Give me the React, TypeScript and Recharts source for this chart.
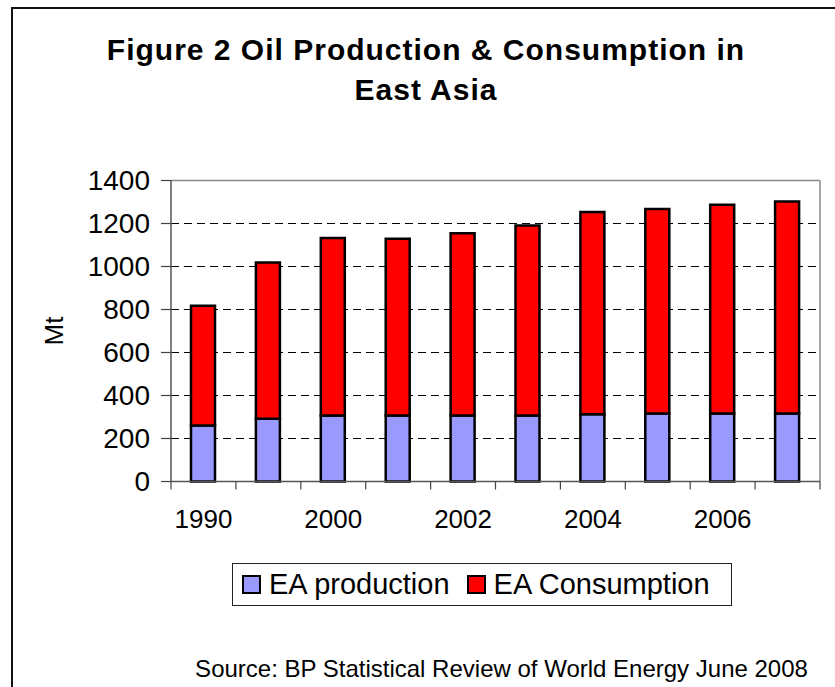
import { BarChart, Bar, XAxis, YAxis, CartesianGrid, Legend } from 'recharts'

const years = ['1990', '1995', '2000', '2001', '2002', '2003', '2004', '2005', '2006', '2007']
const production = [260, 292, 307, 307, 307, 307, 313, 316, 316, 316]
const consumption = [557, 727, 825, 822, 848, 884, 940, 952, 971, 986]
const yTicks = [0, 200, 400, 600, 800, 1000, 1200, 1400]
const seriesNames = ['EA production', 'EA Consumption']

const data = years.map((year, i) => ({
  year,
  production: production[i],
  consumption: consumption[i],
}))

const FONT = "'Liberation Sans', Arial, Helvetica, sans-serif"
const WIDTH = 835
const HEIGHT = 687
const MARGIN = { top: 180.5, right: 15, bottom: 145.5, left: 91 }
const Y_AXIS_WIDTH = 80
const X_AXIS_HEIGHT = 60
const X_TICK_SIZE = 8
const X_TICK_MARGIN = 20
const BAND = (WIDTH - MARGIN.left - MARGIN.right - Y_AXIS_WIDTH) / years.length

// Excel-style category ticks: tick marks sit between bars, labels on every other year
const YearTick = (props: any) => {
  const { x, y, index, payload } = props
  const axisY = y - X_TICK_SIZE - X_TICK_MARGIN
  const half = BAND / 2
  return (
    <g>
      <line x1={x - half} x2={x - half} y1={axisY} y2={axisY + X_TICK_SIZE} stroke="#444" strokeWidth={1.2} />
      {index === years.length - 1 && (
        <line x1={x + half} x2={x + half} y1={axisY} y2={axisY + X_TICK_SIZE} stroke="#444" strokeWidth={1.2} />
      )}
      {index % 2 === 0 && (
        <text x={x} y={y} dy="0.71em" textAnchor="middle" fontSize={26} fontFamily={FONT} fill="#000">
          {payload.value}
        </text>
      )}
    </g>
  )
}

const renderLegend = (props: any) => {
  const items = [...props.payload].sort(
    (a: any, b: any) => seriesNames.indexOf(a.value) - seriesNames.indexOf(b.value)
  )
  return (
    <div
      style={{
        boxSizing: 'border-box',
        width: 500,
        height: 43,
        border: '1px solid #222',
        background: '#fff',
        display: 'flex',
        alignItems: 'center',
        paddingLeft: 9,
        fontFamily: FONT,
        fontSize: 29,
        color: '#000',
      }}
    >
      {items.map((entry: any, i: number) => (
        <div key={entry.value} style={{ display: 'flex', alignItems: 'center', marginLeft: i === 0 ? 0 : 17 }}>
          <div
            style={{
              boxSizing: 'border-box',
              width: 19,
              height: 19,
              border: '2px solid #000',
              background: entry.color,
            }}
          />
          <span style={{ marginLeft: 8, whiteSpace: 'nowrap' }}>{entry.value}</span>
        </div>
      ))}
    </div>
  )
}

export default function App() {
  return (
    <div
      style={{
        position: 'relative',
        width: WIDTH,
        height: HEIGHT,
        overflow: 'hidden',
        background: '#fff',
        fontFamily: FONT,
      }}
    >
      <style>{'body { margin: 0; }'}</style>

      {/* outer frame, only its top and left edges fall inside the page */}
      <div
        style={{
          position: 'absolute',
          left: 11,
          top: 7,
          width: 1000,
          height: 1000,
          borderLeft: '2px solid #111',
          borderTop: '2px solid #111',
        }}
      />

      <div
        style={{
          position: 'absolute',
          left: 0,
          width: 852,
          top: 30,
          textAlign: 'center',
          fontWeight: 'bold',
          fontSize: 30,
          lineHeight: '39.5px',
          letterSpacing: 1,
          color: '#000',
        }}
      >
        Figure 2 Oil Production &amp; Consumption in
        <br />
        East Asia
      </div>

      <div
        style={{
          position: 'absolute',
          left: 54,
          top: 331,
          transform: 'translate(-50%, -50%) rotate(-90deg)',
          fontSize: 26,
          color: '#000',
          whiteSpace: 'nowrap',
        }}
      >
        Mt
      </div>

      <div style={{ position: 'absolute', left: 0, top: 0 }}>
        <BarChart width={WIDTH} height={HEIGHT} data={data} margin={MARGIN} barSize={24}>
          <CartesianGrid vertical={false} stroke="#000" strokeDasharray="8 5" />
          {/* solid grey plot border along the top and right edges */}
          <CartesianGrid
            vertical={false}
            stroke="#888"
            strokeWidth={1.5}
            horizontalCoordinatesGenerator={({ offset }: any) => [offset.top]}
          />
          <CartesianGrid
            horizontal={false}
            stroke="#888"
            strokeWidth={1.5}
            verticalCoordinatesGenerator={({ offset }: any) => [offset.left + offset.width]}
          />
          <XAxis
            dataKey="year"
            interval={0}
            height={X_AXIS_HEIGHT}
            axisLine={{ stroke: '#555', strokeWidth: 1.5 }}
            tickLine={false}
            tickSize={X_TICK_SIZE}
            tickMargin={X_TICK_MARGIN}
            tick={<YearTick />}
          />
          <YAxis
            domain={[0, 1400]}
            ticks={yTicks}
            interval={0}
            width={Y_AXIS_WIDTH}
            axisLine={{ stroke: '#555', strokeWidth: 1.5 }}
            tickLine={{ stroke: '#444', strokeWidth: 1.2 }}
            tickSize={10}
            tickMargin={11}
            tick={{ fontSize: 28, fill: '#000', fontFamily: FONT }}
          />
          <Bar dataKey="production" name={seriesNames[0]} stackId="ea" fill="#9999FF" stroke="#000" strokeWidth={2.5} isAnimationActive={false} />
          <Bar dataKey="consumption" name={seriesNames[1]} stackId="ea" fill="#FF0000" stroke="#000" strokeWidth={2.5} isAnimationActive={false} />
          <Legend
            layout="horizontal"
            align="center"
            verticalAlign="middle"
            content={renderLegend}
            wrapperStyle={{ left: 232, top: 563, width: 500, height: 43 }}
          />
        </BarChart>
      </div>

      <div
        style={{
          position: 'absolute',
          left: 501.5,
          top: 656.7,
          transform: 'translateX(-50%)',
          fontSize: 24,
          lineHeight: '24px',
          whiteSpace: 'nowrap',
          color: '#000',
        }}
      >
        Source: BP Statistical Review of World Energy June 2008
      </div>
    </div>
  )
}
